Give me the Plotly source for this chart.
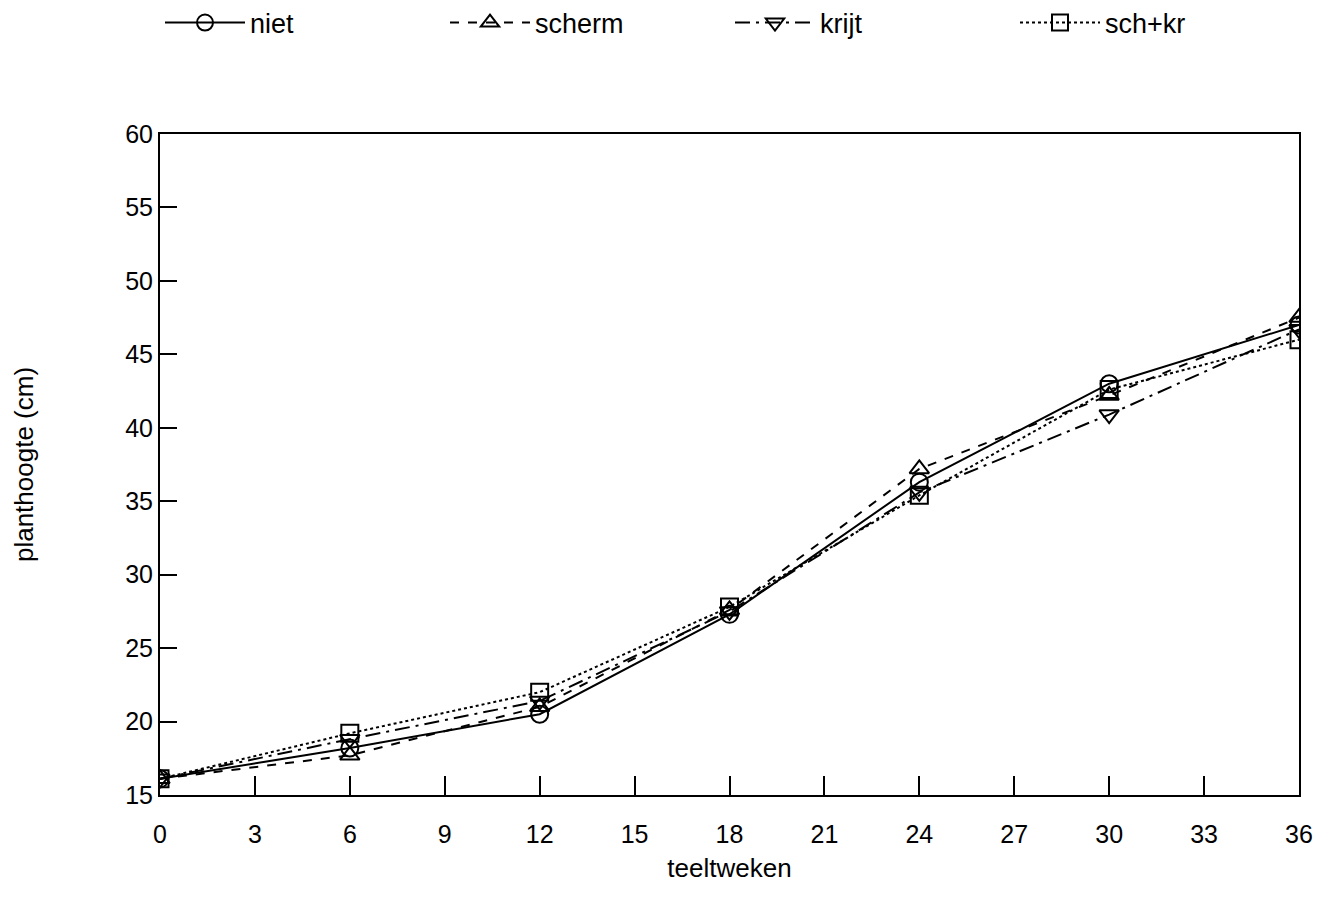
import plotly.graph_objects as go

weeks = [0, 6, 12, 18, 24, 30, 36]
niet = [16.1, 18.2, 20.5, 27.3, 36.3, 43.0, 47.0]
scherm = [16.1, 17.7, 21.0, 27.6, 37.2, 42.2, 47.5]
krijt = [16.1, 18.8, 21.4, 27.5, 35.6, 40.9, 46.7]
schkr = [16.1, 19.2, 22.0, 27.8, 35.4, 42.6, 46.0]

series = [
    ("niet", niet, "solid", "circle-open"),
    ("scherm", scherm, "dash", "triangle-up-open"),
    ("krijt", krijt, "longdashdot", "triangle-down-open"),
    ("sch+kr", schkr, "dot", "square-open"),
]

fig = go.Figure()
for name, vals, dash, sym in series:
    fig.add_trace(go.Scatter(
        x=weeks, y=vals, name=name, mode="lines+markers",
        line=dict(color="black", width=2, dash=dash),
        marker=dict(symbol=sym, size=17, color="black", line=dict(width=2, color="black")),
    ))

fig.update_layout(
    width=1334, height=913,
    margin=dict(l=160, r=35, t=134, b=118, autoexpand=False),
    plot_bgcolor="white", paper_bgcolor="white",
    font=dict(family="Liberation Sans, Arial, sans-serif", color="black", size=25),
    showlegend=True,
    legend=dict(orientation="h", x=0, xanchor="left", y=1.205, yanchor="top",
                font=dict(size=27), itemwidth=80,
                entrywidth=190, entrywidthmode="pixels",
                bgcolor="rgba(0,0,0,0)"),
)
fig.update_xaxes(range=[0, 36], tickvals=list(range(0, 37, 3)),
                 showline=True, linecolor="black", linewidth=2, mirror=True,
                 ticks="inside", ticklen=19, tickwidth=2, tickcolor="black",
                 showgrid=False, zeroline=False, ticklabelstandoff=16,
                 title=dict(text="teeltweken", font=dict(size=26), standoff=12),
                 tickfont=dict(size=25))
fig.update_yaxes(range=[15, 60], tickvals=list(range(15, 61, 5)),
                 showline=True, linecolor="black", linewidth=2, mirror=True,
                 ticks="inside", ticklen=17, tickwidth=2, tickcolor="black",
                 showgrid=False, zeroline=False,
                 title=dict(text="planthoogte (cm)", font=dict(size=26), standoff=84),
                 tickfont=dict(size=25))

fig.write_html("out.html")
